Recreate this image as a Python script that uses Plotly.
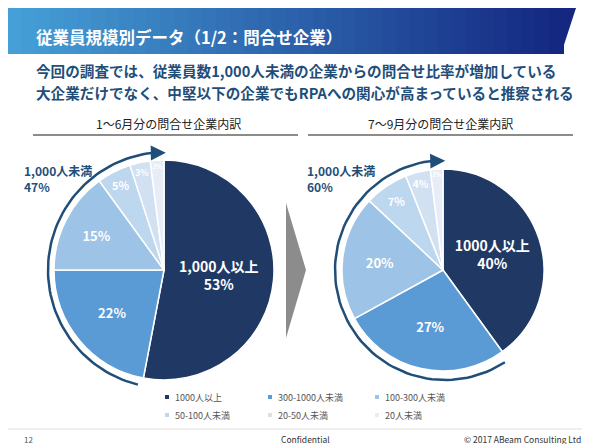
import plotly.graph_objects as go
import numpy as np

categories = ["1000人以上", "300-1000人未満", "100-300人未満", "50-100人未満", "20-50人未満", "20人未満"]
h1_values = [53, 22, 15, 5, 3, 2]
h2_values = [40, 27, 20, 7, 4, 2]
h1_big_label = "1,000人以上"
h2_big_label = "1000人以上"
colors = ["#1f3864", "#5b9bd5", "#9dc3e6", "#bdd7ee", "#d2e1f1", "#e6edf6"]
W, H = 590, 444

fig = go.Figure()

def texts(vals, big):
    return [f"<b>{big}<br>{vals[0]}%</b>"] + [f"<b>{v}%</b>" for v in vals[1:]]

sizes = [14, 13, 13, 11, 10, 9]
for vals, big, dom in [(h1_values, h1_big_label, dict(x=[46/W, 266/W], y=[1-372/H, 1-152/H])),
                       (h2_values, h2_big_label, dict(x=[334/W, 536/W], y=[1-364/H, 1-160/H]))]:
    fig.add_trace(go.Pie(labels=categories, values=vals, sort=False, direction="clockwise", rotation=0,
                         marker=dict(colors=colors, line=dict(color="white", width=1.5)),
                         text=texts(vals, big), textinfo="text", textposition="inside",
                         insidetextorientation="horizontal",
                         textfont=dict(color="white", size=sizes, family="Noto Sans CJK JP"),
                         domain=dom, showlegend=False, hoverinfo="label+percent"))

fig.update_layout(xaxis=dict(range=[0, W], visible=False, domain=[0, 1]),
                  yaxis=dict(range=[H, 0], visible=False, domain=[0, 1]))

for vals, cx, cy, r, lx, ly in [(h1_values, 158, 262, 118, 50, 170), (h2_values, 437, 262, 110, 333, 170)]:
    start = vals[0] / 100 * 360
    a = np.radians(np.linspace(start + 3, 357, 80))
    x = cx + r * np.sin(a); y = cy - r * np.cos(a)
    fig.add_trace(go.Scatter(x=x, y=y, mode="lines", line=dict(color="#1f4e79", width=2.5), showlegend=False, hoverinfo="skip"))
    fig.add_annotation(x=x[-1] + 6, y=y[-1] + 0.5, ax=x[-3], ay=y[-3], xref="x", yref="y", axref="x", ayref="y",
                       showarrow=True, arrowhead=2, arrowsize=1.2, arrowwidth=2.5, arrowcolor="#1f4e79", text="")
    fig.add_annotation(x=lx, y=ly, xref="x", yref="y", showarrow=False, align="left",
                       text=f"<b>1,000人未満<br>{100 - vals[0]}%</b>", font=dict(size=12, color="#1f4e79"))

shapes = []
n = 40
c0 = np.array([70, 160, 215]); c1 = np.array([20, 40, 130])
for i in range(n):
    t = i / (n - 1); c = (c0 * (1 - t) + c1 * t).astype(int)
    x0 = 555 * i / n; x1 = 555 * (i + 1) / n + 1
    shapes.append(dict(type="rect", xref="x", yref="y", x0=x0, x1=x1, y0=0, y1=46, line=dict(width=0),
                       fillcolor=f"rgb({c[0]},{c[1]},{c[2]})"))
shapes.append(dict(type="path", xref="x", yref="y", path="M 553 0 L 568 0 L 553 46 Z",
                   fillcolor="rgb(20,40,130)", line=dict(width=0)))
shapes.append(dict(type="line", xref="x", yref="y", x0=25, x1=290, y0=127, y1=127, line=dict(color="#666", width=1.5)))
shapes.append(dict(type="line", xref="x", yref="y", x0=300, x1=565, y0=127, y1=127, line=dict(color="#666", width=1.5)))
shapes.append(dict(type="path", xref="x", yref="y", path="M 278 195 L 298 262 L 278 330 Z",
                   fillcolor="#8c8c8c", line=dict(width=0)))
shapes.append(dict(type="line", xref="x", yref="y", x0=0, x1=W, y0=421, y1=421, line=dict(color="#ddd", width=1)))

def ann(x, y, t, size, color, bold=False, xa="center", **kw):
    fig.add_annotation(x=x, y=y, xref="x", yref="y", text=f"<b>{t}</b>" if bold else t, showarrow=False,
                       xanchor=xa, font=dict(size=size, color=color), **kw)

ann(26, 29, "従業員規模別データ（1/2：問合せ企業）", 16.5, "white", True, "left")
ann(26, 62, "今回の調査では、従業員数1,000人未満の企業からの問合せ比率が増加している", 14.6, "#1f4e79", True, "left")
ann(26, 84, "大企業だけでなく、中堅以下の企業でもRPAへの関心が高まっていると推察される", 14.6, "#1f4e79", True, "left")
ann(160, 115, "1～6月分の問合せ企業内訳", 12, "#222")
ann(432, 115, "7～9月分の問合せ企業内訳", 12, "#222")

pos = [(165, 389), (268, 389), (375, 389), (165, 407), (268, 407), (375, 407)]
for (x, y), c, lab in zip(pos, colors, categories):
    shapes.append(dict(type="rect", xref="x", yref="y", x0=x - 8, x1=x - 4, y0=y - 2, y1=y + 2, fillcolor=c, line=dict(width=0)))
    ann(x, y, lab, 9, "#555", False, "left")
fig.update_layout(shapes=shapes)

ann(14, 431, "12", 8, "#555", False, "left")
ann(297, 431, "Confidential", 8.5, "#333")
ann(578, 431, "© 2017 ABeam Consulting Ltd.", 8.5, "#333", False, "right")

fig.update_layout(width=W, height=H, margin=dict(l=0, r=0, t=0, b=0), paper_bgcolor="white", plot_bgcolor="white",
                  font=dict(family="Noto Sans CJK JP"))
fig.write_html("out.html")
